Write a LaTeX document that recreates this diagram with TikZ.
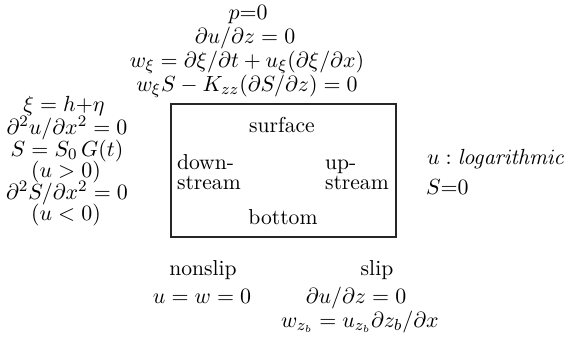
\documentclass[tikz,border=0pt]{standalone}
\begin{document}
\begin{tikzpicture}[x=0.5pt,y=-0.5pt,
  every node/.style={inner sep=0pt,outer sep=0pt,font=\fontsize{10.8pt}{13pt}\selectfont},
  lbl/.style={anchor=base},
  lblw/.style={anchor=base west},
  boxline/.style={draw=black!85,line width=0.9pt}]
\useasboundingbox (0,0) rectangle (568,344);
% box
\coordinate (tl) at (171,104);
\coordinate (br) at (396,237);
\draw[boxline] (tl) rectangle (br);
% top conditions
\node[lbl] (t1) at (248,19) {$p{=}0$};
\node[lbl] (t2) at (245,43) {$\partial u/\partial z=0$};
\node[lbl] (t3) at (247,67) {$w_\xi=\partial\xi/\partial t+u_\xi(\partial\xi/\partial x)$};
\node[lbl] (t4) at (247,91) {$w_\xi S-K_{zz}(\partial S/\partial z)=0$};
% left conditions
\node[lbl] (l1) at (64,111) {$\xi=h{+}\eta$};
\node[lbl] (l2) at (67,134) {$\partial^2u/\partial x^2=0$};
\node[lbl] (l3) at (67,156) {$S=S_0\,G(t)$};
\node[lbl] (l4) at (66,177) {$(u>0)$};
\node[lbl] (l5) at (67,199) {$\partial^2S/\partial x^2=0$};
\node[lbl] (l6) at (66,220) {$(u<0)$};
% inside box
\node[lbl] (surf) at (282,132) {surface};
\node[lbl] (bot) at (283,224) {bottom};
\node[lblw] (d1) at (177,169) {down-};
\node[lblw] (d2) at (177,189) {stream};
\node[lblw] (u1) at (325,169) {up-};
\node[lblw] (u2) at (325,189) {stream};
% right conditions
\node[lblw] (r1) at (427,164) {$u:\mathit{logarithmic}$};
\node[lblw] (r2) at (426,194) {$S{=}0$};
% bottom conditions
\node[lbl] (b1) at (203,275) {nonslip};
\node[lbl] (b2) at (202,303) {$u=w=0$};
\node[lbl] (b3) at (377,275) {slip};
\node[lbl] (b4) at (356,303) {$\partial u/\partial z=0$};
\node[lbl] (b5) at (360,327) {$w_{z_b}=u_{z_b}\partial z_b/\partial x$};
\end{tikzpicture}
\end{document}
